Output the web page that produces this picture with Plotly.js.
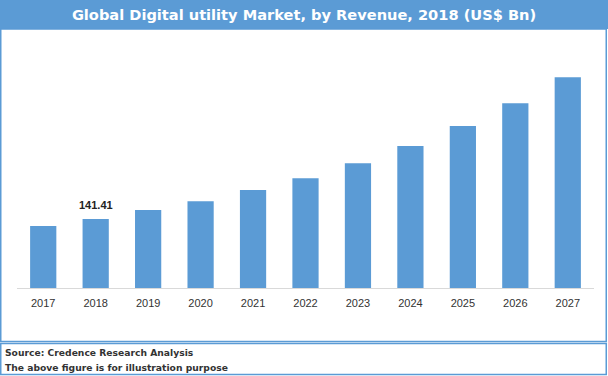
<!DOCTYPE html>
<html>
<head>
<meta charset="utf-8">
<script src="https://cdn.plot.ly/plotly-3.0.1.min.js"></script>
<style>html,body{margin:0;padding:0;background:#fff;}#chart{width:608px;height:376px;}</style>
</head>
<body>
<div id="chart"></div>
<script>
var years = ['2017','2018','2019','2020','2021','2022','2023','2024','2025','2026','2027'];
var revenue = [127, 141.41, 160, 178, 201, 225, 256, 291, 332, 379, 432];
var labelYear = '2018';
var titleText = 'Global Digital utility Market, by Revenue, 2018 (US$ Bn)';
var sourceText = 'Source: Credence Research Analysis';
var noteText = 'The above figure is for illustration purpose';

var W = 608, H = 376, L = 17, R = 14, T = 50, B = 88;
var pw = W - L - R, ph = H - T - B;
function px(x){ return (x - L) / pw; }
function py(y){ return (H - B - y) / ph; }
var blue = '#5B9BD5';

var labelIdx = years.indexOf(labelYear);

var trace = {
  type: 'bar', x: years, y: revenue,
  marker: {color: blue},
  hoverinfo: 'skip'
};

var layout = {
  width: W, height: H,
  margin: {l: L, r: R, t: T, b: B},
  paper_bgcolor: '#fff', plot_bgcolor: '#fff',
  showlegend: false,
  bargap: 0.5,
  title: {
    text: '<b>' + titleText + '</b>',
    font: {family: 'DejaVu Sans', size: 14.6, color: '#fff'},
    x: 0.5, xanchor: 'center', y: 1 - 14.5 / H, yanchor: 'middle', yref: 'container'
  },
  xaxis: {
    type: 'category', range: [-0.5, years.length - 0.5],
    showline: true, linecolor: '#D9D9D9', linewidth: 1,
    showgrid: false, zeroline: false, ticks: '', ticklabelstandoff: 5,
    tickfont: {family: 'Liberation Sans', size: 11, color: '#333'}
  },
  yaxis: {
    range: [0, 488], visible: false, showgrid: false, zeroline: false, fixedrange: true
  },
  shapes: [
    {type: 'rect', xref: 'paper', yref: 'paper', x0: px(0), x1: px(608), y0: py(0), y1: py(29),
     fillcolor: blue, line: {width: 0}, layer: 'below'},
    {type: 'rect', xref: 'paper', yref: 'paper', x0: px(0.75), x1: px(606.25), y0: py(29), y1: py(341.5),
     fillcolor: 'rgba(0,0,0,0)', line: {color: blue, width: 1.5}},
    {type: 'rect', xref: 'paper', yref: 'paper', x0: px(0.75), x1: px(606.25), y0: py(343.5), y1: py(374.5),
     fillcolor: 'rgba(0,0,0,0)', line: {color: blue, width: 1.5}}
  ],
  annotations: [
    {xref: 'x', yref: 'y', x: labelIdx, y: revenue[labelIdx], yanchor: 'bottom', yshift: 6,
     text: '<b>' + revenue[labelIdx].toFixed(2) + '</b>', showarrow: false,
     font: {family: 'Liberation Sans', size: 11, color: '#222'}},
    {xref: 'paper', yref: 'paper', x: px(3), y: py(352), xanchor: 'left', yanchor: 'middle',
     text: '<b>' + sourceText + '</b>', showarrow: false,
     font: {family: 'DejaVu Sans', size: 9.2, color: '#333'}},
    {xref: 'paper', yref: 'paper', x: px(3), y: py(367), xanchor: 'left', yanchor: 'middle',
     text: '<b>' + noteText + '</b>', showarrow: false,
     font: {family: 'DejaVu Sans', size: 9.2, color: '#333'}}
  ]
};

Plotly.newPlot('chart', [trace], layout, {displayModeBar: false, staticPlot: true});
</script>
</body>
</html>
